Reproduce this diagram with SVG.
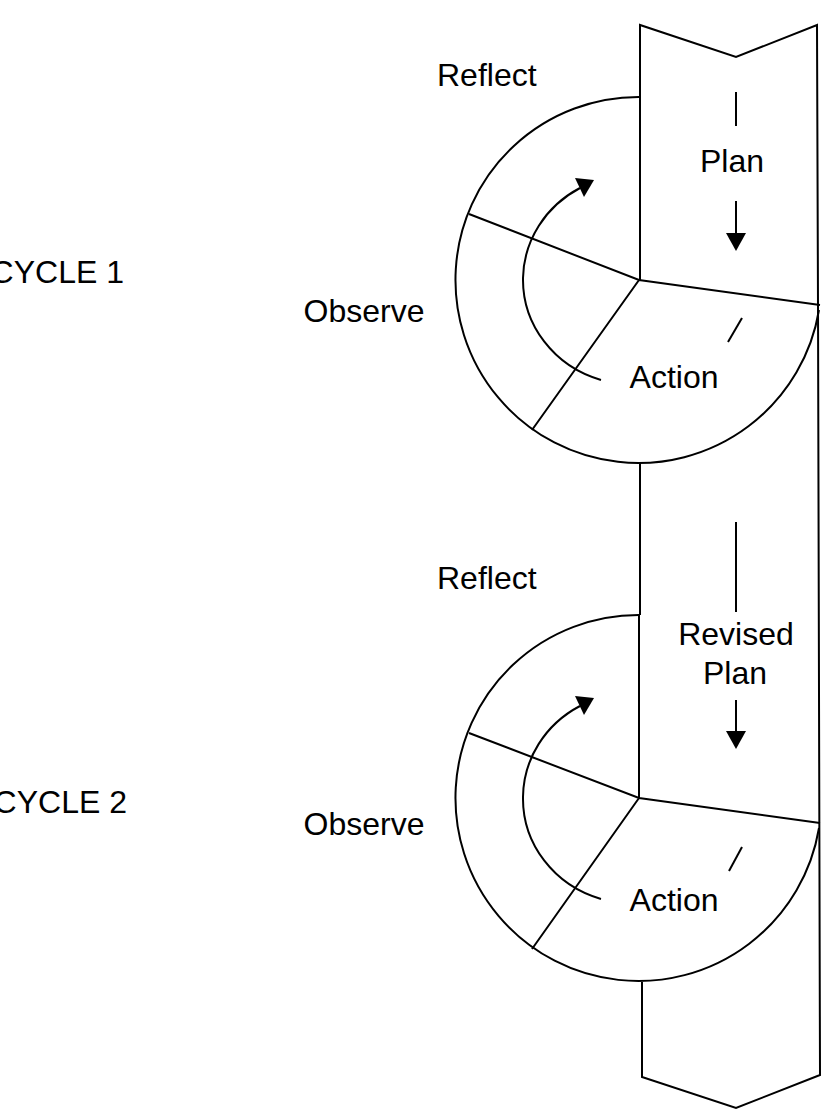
<svg xmlns="http://www.w3.org/2000/svg" width="821" height="1110" viewBox="0 0 821 1110">
<style>
.ln{fill:none;stroke:#000;stroke-width:2;stroke-linejoin:miter}
.hd{fill:#000;stroke:none}
.t{font-family:"Liberation Sans",Arial,sans-serif;font-size:32px;fill:#000}
</style>
<rect width="821" height="1110" fill="#fff"/>
<g id="band">
<path class="ln" d="M640 280 V25 L736 57 L817 25 L818 305 L820 1075 L736 1108 L642 1077 V982"/>
<path class="ln" d="M640 463 V615"/>
<path class="ln" d="M639 615 V798"/>
</g>
<g id="cycle1">
<path class="ln" d="M640 97 A183 183 0 1 0 819 310"/>
<path class="ln" d="M469 214 L639 280 L820 305 M639 280 L532 430"/>
<path class="ln" d="M742 318 L728 342"/>
</g>
<g id="cycle2">
<path class="ln" d="M639 615 A183 183 0 1 0 819 828"/>
<path class="ln" d="M469 733 L639 798 L820 823 M639 798 L532 949"/>
<path class="ln" d="M742 847 L729 871"/>
</g>
<g id="connectors">
<path class="ln" d="M601 380 A110 105 0 0 1 523 278 A110 105 0 0 1 580 188"/>
<polygon class="hd" points="575,178 594,180 584,197"/>
<path class="ln" d="M736 92 V126 M736 201 V236"/>
<polygon class="hd" points="726,233 746,233 736,251"/>
<path class="ln" d="M601 899 A110 105 0 0 1 523 797 A110 105 0 0 1 580 706"/>
<polygon class="hd" points="575,696 594,698 584,715"/>
<path class="ln" d="M736 522 V612 M736 700 V734"/>
<polygon class="hd" points="726,731 746,731 736,749"/>
</g>
<g id="labels">
<text class="t" x="124" y="283" text-anchor="end">CYCLE 1</text>
<text class="t" x="127" y="813" text-anchor="end">CYCLE 2</text>
<text class="t" x="437" y="86">Reflect</text>
<text class="t" x="364" y="322" text-anchor="middle">Observe</text>
<text class="t" x="674" y="388" text-anchor="middle">Action</text>
<text class="t" x="732" y="172" text-anchor="middle">Plan</text>
<text class="t" x="437" y="589">Reflect</text>
<text class="t" x="364" y="835" text-anchor="middle">Observe</text>
<text class="t" x="674" y="911" text-anchor="middle">Action</text>
<text class="t" x="736" y="645" text-anchor="middle">Revised</text>
<text class="t" x="735" y="684" text-anchor="middle">Plan</text>
</g>
</svg>
